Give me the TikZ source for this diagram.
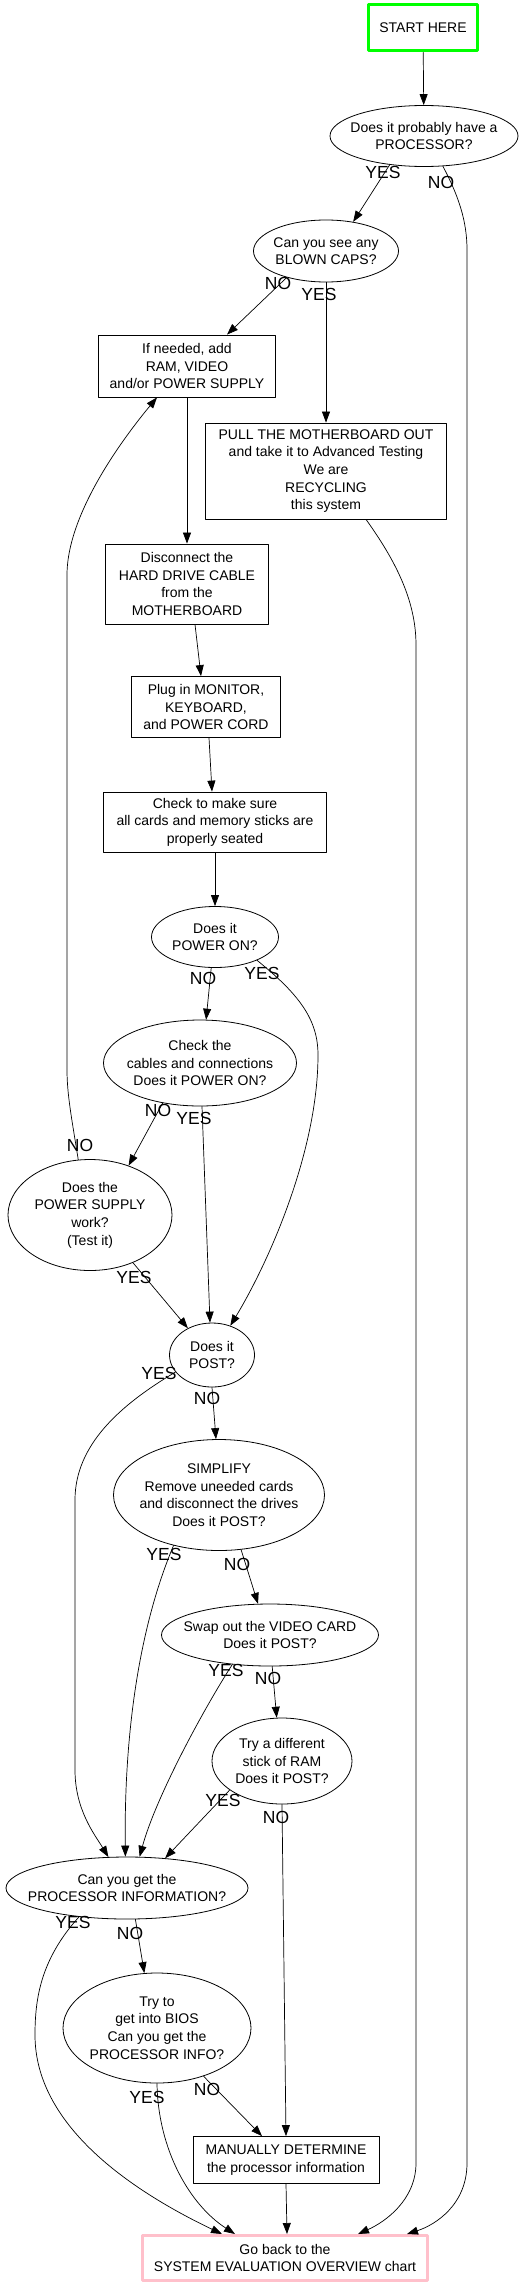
\documentclass[tikz,border=0pt]{standalone}
\usepackage{fontspec}
\setmainfont{Liberation Sans}
\usetikzlibrary{shapes.geometric,arrows.meta}
\definecolor{startgreen}{RGB}{0,255,0}
\definecolor{endpink}{RGB}{255,192,203}

\begin{document}
\begin{tikzpicture}[x=1pt, y=-1pt, line join=round, line cap=round, >={Triangle[length=11pt,width=8pt]},
		font=\fontsize{14}{17.6}\selectfont,
		box/.style 2 args={draw, line width=0.8pt, rectangle, align=center, inner xsep=2pt, inner ysep=0pt, minimum width=#1, minimum height=#2},
		ell/.style 2 args={draw, line width=0.8pt, ellipse, align=center, inner xsep=-200pt, inner ysep=0pt, minimum width=#1, minimum height=#2},
		lbl/.style={font=\fontsize{17.5}{20}\selectfont, inner sep=0pt},
		link/.style={->, line width=0.7pt}]
	\def\rail{467} \def\railb{416} % x of the two long lines on the right
	\useasboundingbox (0,0) rectangle (532,2288);
	% boxes and questions
	\node[box={109pt}{46pt}, draw=startgreen, line width=3pt] (start) at (423,28) {START HERE};
	\node[ell={188pt}{61pt}] (proc) at (424,136) {Does it probably have a\\PROCESSOR?};
	\node[ell={145pt}{62pt}] (caps) at (326,251) {Can you see any\\BLOWN CAPS?};
	\node[box={177pt}{62pt}] (addparts) at (187,366) {If needed, add\\RAM, VIDEO\\and/or POWER SUPPLY};
	\node[box={241pt}{96pt}] (pull) at (326,471) {PULL THE MOTHERBOARD OUT\\and take it to Advanced Testing\\We are\\RECYCLING\\this system};
	\node[box={163pt}{80pt}] (unplug) at (187,584) {Disconnect the\\HARD DRIVE CABLE\\from the\\MOTHERBOARD};
	\node[box={149pt}{61pt}] (plugin) at (206,707) {Plug in MONITOR,\\KEYBOARD,\\and POWER CORD};
	\node[box={223pt}{60pt}] (seated) at (215,822) {Check to make sure\\all cards and memory sticks are\\properly seated};
	\node[ell={127pt}{61pt}] (poweron) at (215,937) {Does it\\POWER ON?};
	\node[ell={193pt}{86pt}] (cables) at (200,1063) {Check the\\cables and connections\\Does it POWER ON?};
	\node[ell={164pt}{111pt}] (psu) at (90,1215) {Does the\\POWER SUPPLY\\work?\\(Test it)};
	\node[ell={85pt}{64pt}] (post) at (212,1355) {Does it\\POST?};
	\node[ell={211pt}{111pt}] (simplify) at (219,1495) {SIMPLIFY\\Remove uneeded cards\\and disconnect the drives\\Does it POST?};
	\node[ell={217pt}{62pt}] (video) at (270,1635) {Swap out the VIDEO CARD\\Does it POST?};
	\node[ell={140pt}{86pt}] (ram) at (282,1761) {Try a different\\stick of RAM\\Does it POST?};
	\node[ell={242pt}{62pt}] (cpuinfo) at (127,1888) {Can you get the\\PROCESSOR INFORMATION?};
	\node[ell={188pt}{110pt}] (bios) at (157,2028) {Try to\\get into BIOS\\Can you get the\\PROCESSOR INFO?};
	\node[box={186pt}{47pt}] (manual) at (286,2160) {MANUALLY DETERMINE\\the processor information};
	\node[box={285pt}{45pt}, draw=endpink, line width=3pt] (back) at (285,2258) {Go back to the\\SYSTEM EVALUATION OVERVIEW chart};
	% YES / NO
	\node[lbl] (procyes) at (383,172) {YES};
	\node[lbl] (procno) at (441,182) {NO};
	\node[lbl] (capsno) at (278,283) {NO};
	\node[lbl] (capsyes) at (319,294) {YES};
	\node[lbl] (ponno) at (203,978) {NO};
	\node[lbl] (ponyes) at (262,973) {YES};
	\node[lbl] (cabno) at (158,1110) {NO};
	\node[lbl] (cabyes) at (194,1118) {YES};
	\node[lbl] (psuno) at (80,1145) {NO};
	\node[lbl] (psuyes) at (134,1277) {YES};
	\node[lbl] (postyes) at (159,1373) {YES};
	\node[lbl] (postno) at (207,1398) {NO};
	\node[lbl] (simyes) at (164,1554) {YES};
	\node[lbl] (simno) at (237,1564) {NO};
	\node[lbl] (vidyes) at (226,1670) {YES};
	\node[lbl] (vidno) at (268,1678) {NO};
	\node[lbl] (ramyes) at (223,1800) {YES};
	\node[lbl] (ramno) at (276,1817) {NO};
	\node[lbl] (cpuyes) at (73,1922) {YES};
	\node[lbl] (cpuno) at (130,1933) {NO};
	\node[lbl] (biosyes) at (147,2097) {YES};
	\node[lbl] (biosno) at (207,2089) {NO};
	% connectors
	\draw[link] (start) -- (proc);
	\draw[link] (proc.220) -- (caps.47);
	\draw[link] (proc.302) .. controls (458,195) and (\rail,220) .. (\rail,250) -- (\rail,2163)
		.. controls (\rail,2205) and (435,2225) .. ([xshift=122pt]back.north);
	\draw[link] (caps.214) -- ([xshift=40pt]addparts.north);
	\draw[link] (caps.south) -- (pull.north);
	\draw[link] ([xshift=40pt]pull.south) .. controls (395,560) and (\railb,600) .. (\railb,645) -- (\railb,2163)
		.. controls (\railb,2200) and (385,2222) .. ([xshift=73pt]back.north);
	\draw[link] (addparts.south) -- (unplug.north);
	\draw[link] ([xshift=8pt]unplug.south) -- ([xshift=-5pt]plugin.north);
	\draw[link] ([xshift=3pt]plugin.south) -- ([xshift=-3pt]seated.north);
	\draw[link] (seated.south) -- (poweron.north);
	\draw[link] (poweron.263) -- (cables.82);
	\draw[link] (poweron.331) .. controls (300,995) and (318,1020) .. (318,1055)
		.. controls (318,1150) and (270,1260) .. (post.58);
	\draw[link] (cables.227) -- (psu.52);
	\draw[link] ([xshift=2pt]cables.south) -- ([xshift=-2pt]post.north);
	\draw[link] (psu.102) .. controls (72,1120) and (67,1095) .. (67,1070) -- (67,575)
		.. controls (67,510) and (130,430) .. ([xshift=-30pt]addparts.south);
	\draw[link] (psu.312) -- (post.132);
	\draw[link] (post.205) .. controls (120,1405) and (75,1445) .. (75,1500) -- (75,1770)
		.. controls (75,1810) and (95,1835) .. (cpuinfo.121);
	\draw[link] (post.south) -- ([xshift=-3pt]simplify.north);
	\draw[link] (simplify.228) .. controls (140,1625) and (124,1730) .. (cpuinfo.93);
	\draw[link] (simplify.292) -- (video.111);
	\draw[link] (video.218) .. controls (200,1715) and (155,1800) .. (cpuinfo.68);
	\draw[link] (video.274) -- (ram.97);
	\draw[link] (ram.209) -- (cpuinfo.38);
	\draw[link] (ram.south) -- (manual.north);
	\draw[link] (cpuinfo.285) -- (bios.103);
	\draw[link] (cpuinfo.211) .. controls (40,1960) and (35,2000) .. (35,2035)
		.. controls (35,2125) and (130,2190) .. ([xshift=-63pt]back.north);
	\draw[link] (bios.south) .. controls (158,2150) and (190,2205) .. ([xshift=-50pt]back.north);
	\draw[link] (bios.314) -- ([xshift=-24pt]manual.north);
	\draw[link] (manual.south) -- ([xshift=2pt]back.north);
\end{tikzpicture}
\end{document}
